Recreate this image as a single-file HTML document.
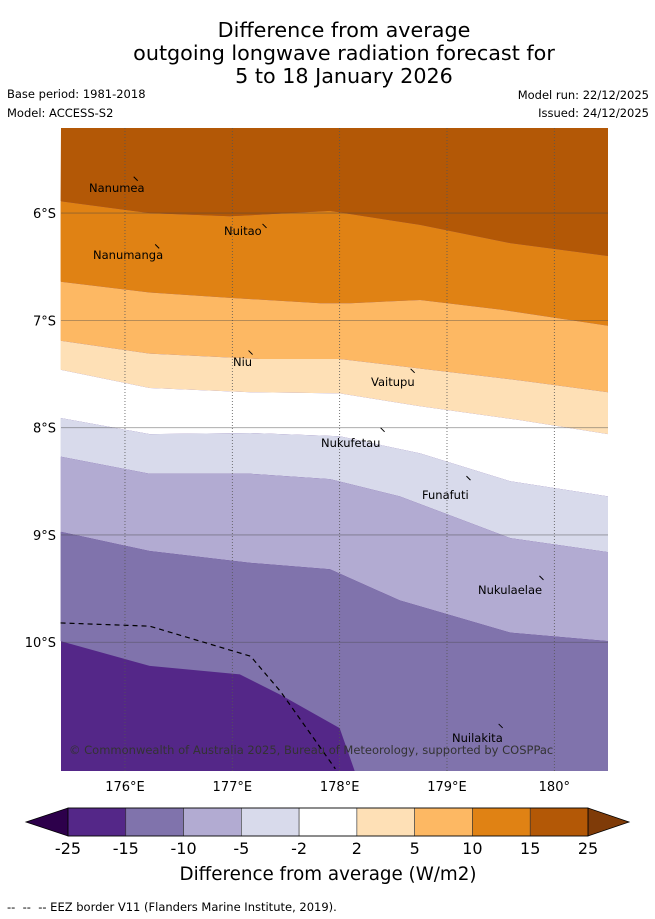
<!DOCTYPE html>
<html><head><meta charset="utf-8">
<style>
body{margin:0;background:#fff;font-family:"Liberation Sans","DejaVu Sans",sans-serif;}
#wrap{position:relative;width:655px;height:919px;overflow:hidden;}
svg text{font-family:"DejaVu Sans","Liberation Sans",sans-serif;}
</style></head>
<body>
<div id="wrap">
<svg id="svg" width="655" height="919" xmlns="http://www.w3.org/2000/svg">
<text x="344" y="37" font-size="20.7" text-anchor="middle">Difference from average</text>
<text x="344" y="60" font-size="20.7" text-anchor="middle">outgoing longwave radiation forecast for</text>
<text x="344" y="83" font-size="20.7" text-anchor="middle">5 to 18 January 2026</text>
<text x="7" y="98" font-size="11.5">Base period: 1981-2018</text>
<text x="7" y="117" font-size="11.5">Model: ACCESS-S2</text>
<text x="649" y="99" font-size="11.5" text-anchor="end">Model run: 22/12/2025</text>
<text x="649" y="117" font-size="11.5" text-anchor="end">Issued: 24/12/2025</text>
<g id="map"></g>
<g id="cbar"></g>
<text x="328" y="880" font-size="18.3" text-anchor="middle">Difference from average (W/m2)</text>
<text x="7" y="911" font-size="11.5">-- &#160;-- &#160;-- EEZ border V11 (Flanders Marine Institute, 2019).</text>
</svg>
</div>
<script>
const bandColors=["#b35806","#e08214","#fdb863","#fee0b6","#ffffff","#d8daeb","#b2abd2","#8073ac","#542788"];
const bLon=[
 [175.40,176.23,176.98,177.91,178.75,179.59,180.5],
 [175.40,176.23,176.98,177.82,178.10,178.75,179.50,180.5],
 [175.40,176.23,177.26,178.00,178.84,179.68,180.5],
 [175.40,176.23,177.17,178.00,178.75,179.68,180.5],
 [175.40,176.23,177.17,178.00,178.75,179.59,180.5],
 [175.40,176.23,177.17,177.91,178.56,179.59,180.5],
 [175.40,176.23,177.17,177.91,178.56,179.59,180.5],
 [175.40,176.23,177.07,177.45,178.00,178.14,180.5]];
const bLat=[
 [5.89,6.00,6.03,5.98,6.11,6.28,6.40],
 [6.64,6.74,6.79,6.84,6.84,6.81,6.90,7.05],
 [7.19,7.31,7.36,7.36,7.46,7.56,7.67],
 [7.46,7.63,7.67,7.68,7.80,7.93,8.06],
 [7.91,8.06,8.05,8.08,8.24,8.50,8.64],
 [8.27,8.43,8.43,8.48,8.64,9.03,9.16],
 [8.97,9.15,9.26,9.32,9.61,9.91,9.99],
 [9.99,10.22,10.30,10.49,10.80,11.20,11.20]];
const eezLon=[175.40,176.23,177.17,177.45,177.96];
const eezLat=[9.82,9.85,10.13,10.46,11.18];
const lonTicks=[176,177,178,179,180];
const lonLabels=["176°E","177°E","178°E","179°E","180°"];
const latTicks=[6,7,8,9,10];
const latLabels=["6°S","7°S","8°S","9°S","10°S"];
const islands=["Nanumea","Nuitao","Nanumanga","Niu","Vaitupu","Nukufetau","Funafuti","Nukulaelae","Nuilakita"];
const islLon=[176.10,177.30,176.30,177.17,178.68,178.40,179.20,179.88,179.50];
const islLat=[5.68,6.12,6.31,7.30,7.47,8.02,8.47,9.40,10.78];
const islTx=[89,224,93,233,371,321,422,478,452];
const islTy=[192,235,259,366,386,447,499,594,742];
const cbLevels=["-25","-15","-10","-5","-2","2","5","10","15","25"];

const NS="http://www.w3.org/2000/svg";
const X0=61,X1=608,Y0=128,Y1=771;
const LON0=175.404,LON1=180.5,LAT0=5.207,LAT1=11.2;
const xS=l=>X0+(l-LON0)/(LON1-LON0)*(X1-X0);
const yS=l=>Y0+(l-LAT0)/(LAT1-LAT0)*(Y1-Y0);
function mk(t,a,p){const e=document.createElementNS(NS,t);for(const k in a)e.setAttribute(k,a[k]);p.appendChild(e);return e;}
const map=document.getElementById('map');
mk('rect',{x:X0,y:Y0,width:X1-X0,height:Y1-Y0,fill:bandColors[8]},map);
for(let i=0;i<8;i++){
 let top=i===0?[[X0,Y0],[X1,Y0]]:bLon[i-1].map((l,j)=>[xS(l),yS(bLat[i-1][j])]);
 let bot=bLon[i].map((l,j)=>[xS(l),yS(bLat[i][j])]).reverse();
 const pts=top.concat(bot).map(p=>p.join(',')).join(' ');
 const pg=mk('polygon',{points:pts,fill:bandColors[i]},map);
 
 
}
lonTicks.forEach((l,i)=>{
 const ln=mk('line',{x1:xS(l),x2:xS(l),y1:Y0,y2:Y1,stroke:'#555','stroke-width':0.8,'stroke-dasharray':'1,2'},map);
 
 
 const t=mk('text',{x:xS(l),y:791,'font-size':13,'text-anchor':'middle'},map);t.textContent=lonLabels[i];
 
 
});
latTicks.forEach((l,i)=>{
 const ln=mk('line',{x1:X0,x2:X1,y1:yS(l),y2:yS(l),stroke:'#444','stroke-opacity':0.5,'stroke-width':0.8},map);
 
 
 const t=mk('text',{x:56,y:yS(l)+5,'font-size':13,'text-anchor':'end'},map);t.textContent=latLabels[i];
 
 
});
const eez=mk('polyline',{points:eezLon.map((l,j)=>xS(l)+','+yS(eezLat[j])).join(' '),fill:'none',stroke:'#000','stroke-width':1.2,'stroke-dasharray':'5,4'},map);


islands.forEach((n,i)=>{
 const m=mk('line',{x1:xS(islLon[i])-2,y1:yS(islLat[i])-2,x2:xS(islLon[i])+2,y2:yS(islLat[i])+2,stroke:'#000','stroke-width':1},map);
 
 
 const t=mk('text',{x:islTx[i],y:islTy[i],'font-size':11.5},map);t.textContent=n;
 
 
});
const cp=mk('text',{x:69,y:754,'font-size':11.5,fill:'#333'},map);
cp.textContent="© Commonwealth of Australia 2025, Bureau of Meteorology, supported by COSPPac";


const cb=document.getElementById('cbar');
const CX0=68,CX1=588,CY0=808,CY1=836,n=9,w=(CX1-CX0)/n;
const cbCols=bandColors.slice().reverse();
const tl=mk('polygon',{points:`26,822 ${CX0},${CY0} ${CX0},${CY1}`,fill:'#2d004b',stroke:'#000','stroke-width':0.8},cb);


const tr=mk('polygon',{points:`629,822 ${CX1},${CY0} ${CX1},${CY1}`,fill:'#7f3b08',stroke:'#000','stroke-width':0.8},cb);


for(let i=0;i<n;i++){
 const r=mk('rect',{x:CX0+i*w,y:CY0,width:w,height:CY1-CY0,fill:cbCols[i],stroke:'#333','stroke-width':0.6},cb);
 
 
}
mk('rect',{x:CX0,y:CY0,width:CX1-CX0,height:CY1-CY0,fill:'none',stroke:'#000','stroke-width':0.8},cb);
cbLevels.forEach((s,i)=>{
 const t=mk('text',{x:CX0+i*w,y:854,'font-size':16,'text-anchor':'middle'},cb);t.textContent=s;
 
 
});
</script>
</body></html>
